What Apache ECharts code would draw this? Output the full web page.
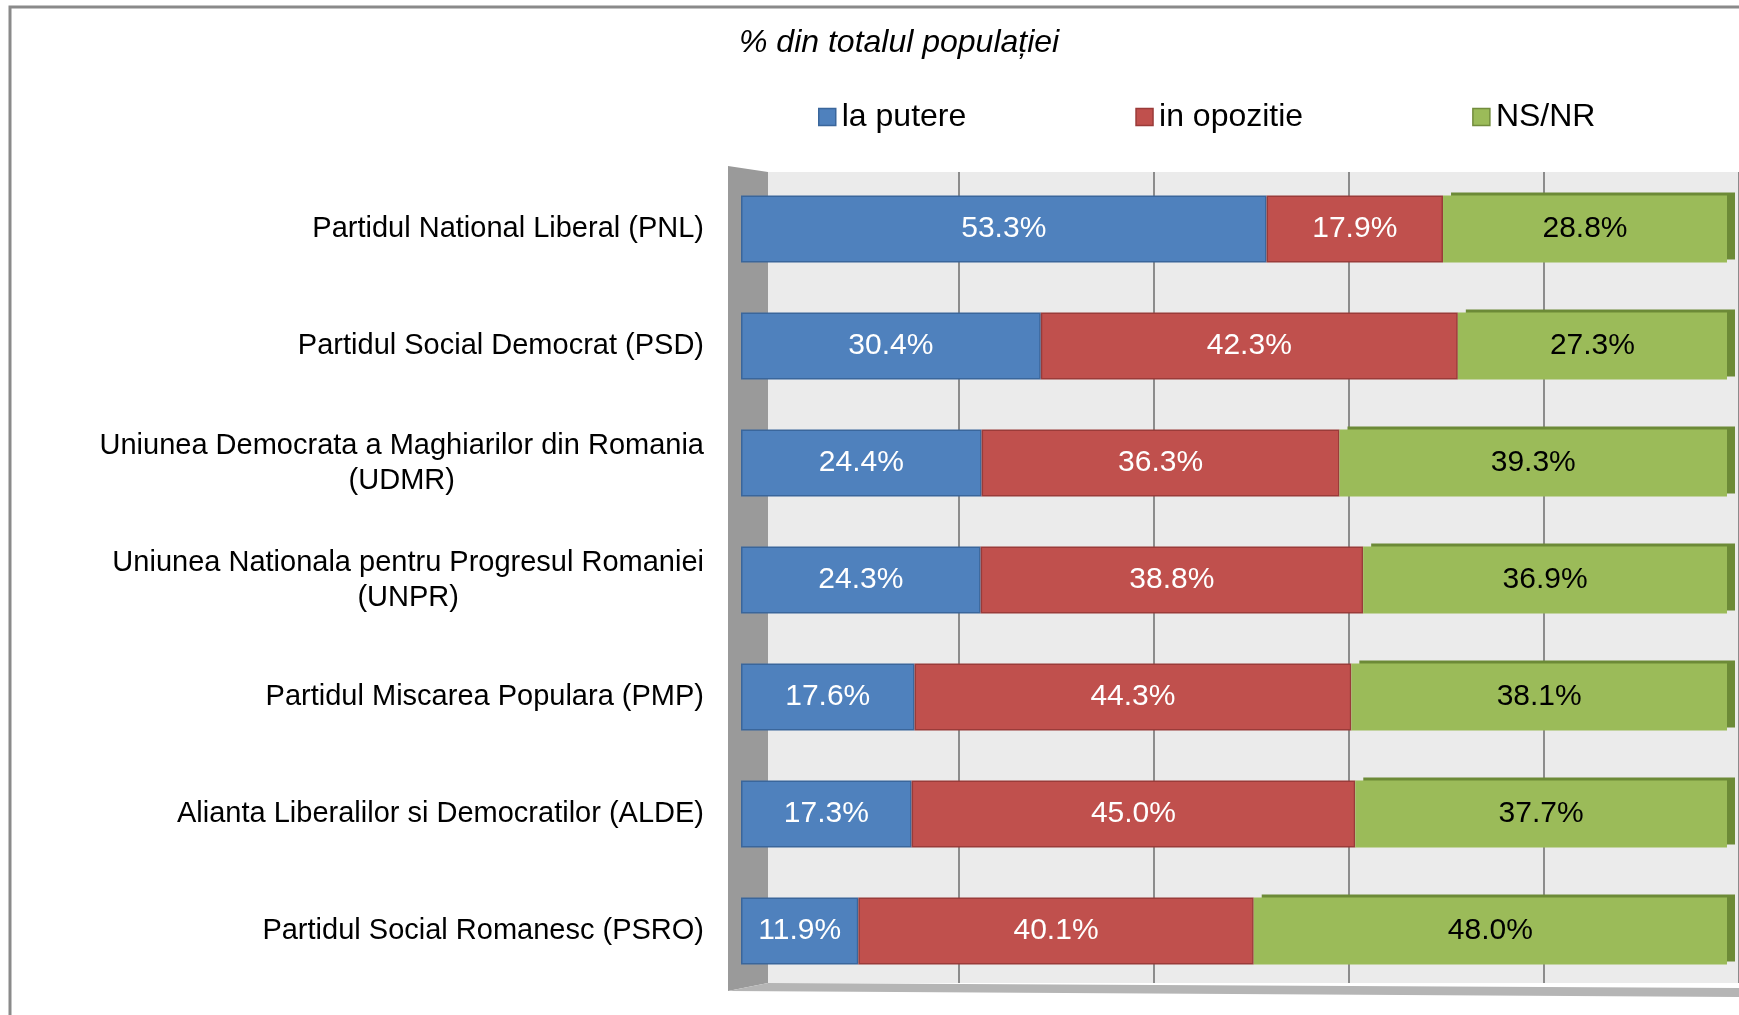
<!DOCTYPE html>
<html>
<head>
<meta charset="utf-8">
<script src="https://cdn.jsdelivr.net/npm/echarts@6/dist/echarts.min.js"></script>
<style>
html,body{margin:0;padding:0;background:#fff;}
#chart{width:1739px;height:1015px;}
</style>
</head>
<body>
<div id="chart"></div>
<script>
const categories = [
  'Partidul National Liberal (PNL)',
  'Partidul Social Democrat (PSD)',
  'Uniunea Democrata a Maghiarilor din Romania\n(UDMR)',
  'Uniunea Nationala pentru Progresul Romaniei\n(UNPR)',
  'Partidul Miscarea Populara (PMP)',
  'Alianta Liberalilor si Democratilor (ALDE)',
  'Partidul Social Romanesc (PSRO)'
];
const laPutere   = [53.3, 30.4, 24.4, 24.3, 17.6, 17.3, 11.9];
const inOpozitie = [17.9, 42.3, 36.3, 38.8, 44.3, 45.0, 40.1];
const nsNr       = [28.8, 27.3, 39.3, 36.9, 38.1, 37.7, 48.0];
const seriesNames = ['la putere', 'in opozitie', 'NS/NR'];
const titleText = '% din totalul populației';

const FONT = '"Liberation Sans", Arial, sans-serif';
const chart = echarts.init(document.getElementById('chart'));

function seg(name, data, itemStyle, labelColor) {
  return {
    name: name,
    type: 'bar',
    stack: 'total',
    xAxisIndex: 0,
    yAxisIndex: 0,
    barWidth: 67,
    z: 5,
    data: data,
    itemStyle: itemStyle,
    label: {
      show: true,
      position: 'inside',
      color: labelColor,
      fontFamily: FONT,
      fontSize: 30,
      formatter: p => p.value.toFixed(1) + '%'
    },
    emphasis: { disabled: true }
  };
}

chart.setOption({
  animation: false,
  backgroundColor: '#ffffff',
  title: {
    text: titleText,
    left: 734,
    top: 22,
    textStyle: { fontFamily: FONT, fontSize: 32, fontStyle: 'italic', fontWeight: 'normal', color: '#000' }
  },
  legend: {
    data: [
      { name: seriesNames[0], itemStyle: { borderColor: '#3a669b', borderWidth: 1.5 } },
      { name: seriesNames[1], itemStyle: { borderColor: '#9a3b39', borderWidth: 1.5 } },
      { name: seriesNames[2], itemStyle: { borderColor: '#728c3d', borderWidth: 1.5 } }
    ],
    left: 813,
    top: 96,
    itemWidth: 17,
    itemHeight: 17,
    itemGap: 169,
    icon: 'rect',
    textStyle: { fontFamily: FONT, fontSize: 32, color: '#000', padding: [0, 0, 0, 1] },
    selectedMode: false
  },
  grid: [
    { left: 741, right: 12, top: 170.5, bottom: 25.5, containLabel: false },
    { left: 764, width: 990, top: 172, bottom: 32, show: true, backgroundColor: '#ebebeb', borderWidth: 0, containLabel: false }
  ],
  xAxis: [
    { gridIndex: 0, type: 'value', min: 0, max: 100, show: false },
    { gridIndex: 1, type: 'value', min: 0, max: 100, interval: 20,
      axisLabel: { show: false }, axisLine: { show: false }, axisTick: { show: false },
      splitLine: { show: true, lineStyle: { color: '#8c8c8c', width: 2 } } }
  ],
  yAxis: [
    { gridIndex: 0, type: 'category', data: categories, inverse: true,
      axisLine: { show: false }, axisTick: { show: false }, splitLine: { show: false },
      axisLabel: {
        margin: 37,
        fontFamily: FONT,
        fontSize: 29,
        color: '#000',
        lineHeight: 35,
        formatter: v => v.indexOf('\n') >= 0 ? v.split('\n').map(s => '{c|' + s + '}').join('\n') : v,
        rich: { c: { align: 'center', fontFamily: FONT, fontSize: 29, color: '#000', lineHeight: 35 } }
      } },
    { gridIndex: 1, type: 'value', show: false }
  ],
  graphic: [
    { type: 'polygon', z: 1, silent: true, shape: { points: [[728,166],[768,172],[768,983],[728,991]] }, style: { fill: '#9a9a9a' } },
    { type: 'polygon', z: 1, silent: true, shape: { points: [[728,991],[768,983],[1739,988],[1739,997]] }, style: { fill: '#b5b5b5' } },
    { type: 'rect', z: 10, silent: true, shape: { x: 10, y: 7, width: 1760, height: 1040 }, style: { fill: 'none', stroke: '#8a8a8a', lineWidth: 3 } }
  ],
  series: [
    seg(seriesNames[0], laPutere, { color: '#4f81bd', borderColor: '#3a669b', borderWidth: 1.5 }, '#ffffff'),
    seg(seriesNames[1], inOpozitie, { color: '#c0504d', borderColor: '#9a3b39', borderWidth: 1.5 }, '#ffffff'),
    seg(seriesNames[2], nsNr, { color: '#9bbb59', borderWidth: 0,
        shadowColor: '#6c8a37', shadowOffsetX: 8, shadowOffsetY: -3, shadowBlur: 0 }, '#000000')
  ]
});
</script>
</body>
</html>
